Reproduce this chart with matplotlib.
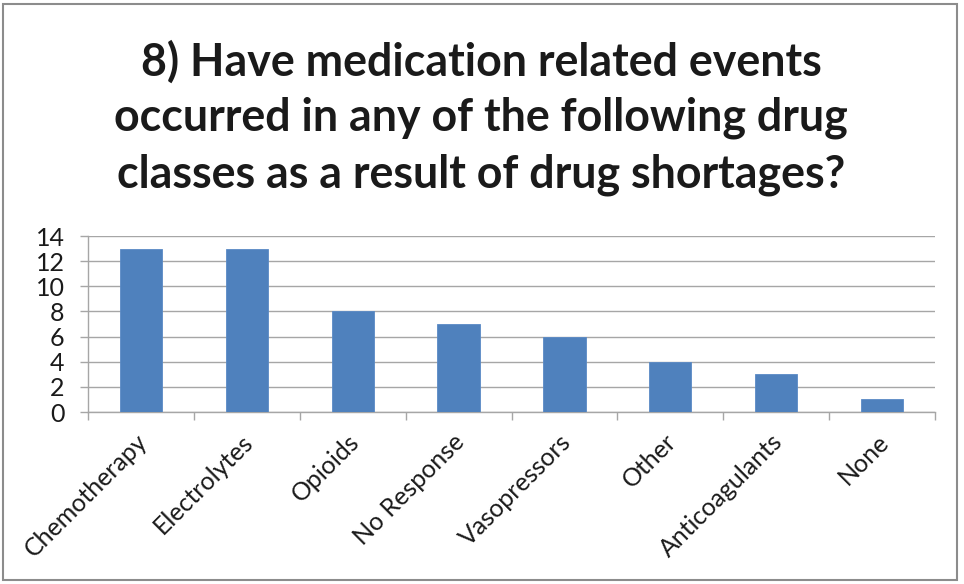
import matplotlib
matplotlib.use("Agg")
import matplotlib.pyplot as plt
from matplotlib.patches import Rectangle

categories = ["Chemotherapy", "Electrolytes", "Opioids", "No Response",
              "Vasopressors", "Other", "Anticoagulants", "None"]
counts = [13, 13, 8, 7, 6, 4, 3, 1]
yticks = [0, 2, 4, 6, 8, 10, 12, 14]
title_lines = ["8) Have medication related events",
               "occurred in any of the following drug",
               "classes as a result of drug shortages?"]

W, H = 964, 584
FONT = "Lato"
fig = plt.figure(figsize=(W / 100, H / 100), dpi=100)
fig.patch.set_facecolor("white")

# outer chart frame
fig.patches.append(Rectangle((3 / W, 4 / H), 954 / W, 576 / H,
                             transform=fig.transFigure, fill=False,
                             edgecolor="#8c8c8c", linewidth=1.5))

ax = fig.add_axes([88 / W, 1 - 412 / H, (935 - 88) / W, (412 - 236) / H])
x = list(range(len(categories)))
ax.bar(x, counts, width=0.4, color="#4f81bd", edgecolor="#5a8ac6",
       linewidth=0.6, zorder=3)
ax.set_xlim(-0.5, len(categories) - 0.5)
ax.set_ylim(0, 14)
ax.set_yticks(yticks)
ax.set_yticklabels([str(v) for v in yticks], fontsize=18, family=FONT,
                   color="#1a1a1a")
ax.yaxis.grid(True, color="#a6a6a6", linewidth=1.0, zorder=0)
ax.tick_params(axis="y", length=5.8, color="#a6a6a6", width=1.0, pad=11)

for s in ["top", "right"]:
    ax.spines[s].set_visible(False)
for s in ["left", "bottom"]:
    ax.spines[s].set_color("#a6a6a6")
    ax.spines[s].set_linewidth(1.0)

# category boundary ticks below the axis
ax.set_xticks([i - 0.5 for i in range(len(categories) + 1)])
ax.set_xticklabels([])
ax.tick_params(axis="x", length=5.8, color="#a6a6a6", width=1.0)
for i, name in enumerate(categories):
    ax.annotate(name, xy=(i, 0), xycoords=("data", "axes fraction"),
                xytext=(-4, -13), textcoords="offset points",
                rotation=45, ha="right", va="top", rotation_mode="anchor",
                fontsize=18, family=FONT, color="#1a1a1a")

# three-line bold title
for line, yc in zip(title_lines, [62, 118, 175]):
    fig.text(481 / W, 1 - yc / H, line, ha="center", va="center",
             fontsize=32.2, fontweight="bold", family=FONT, color="#1a1a1a")

fig.savefig("out.png", dpi=100, facecolor="white")
